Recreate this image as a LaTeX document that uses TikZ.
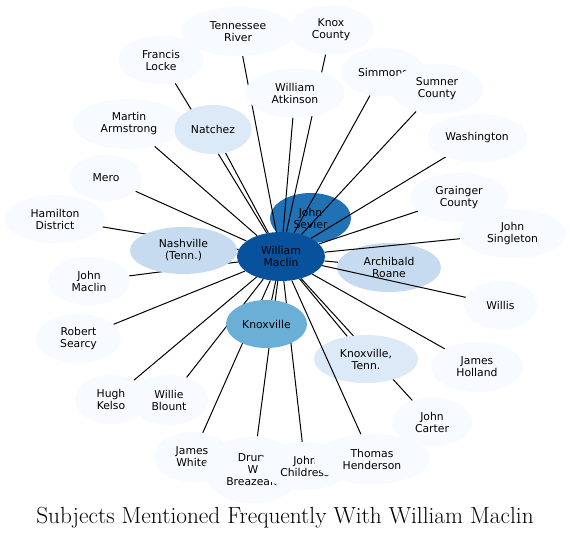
\documentclass[tikz,border=0pt]{standalone}
\usepackage{fontspec}
\newfontfamily\labfont{DejaVu Sans}
\usetikzlibrary{shapes.geometric}
\pgfdeclarelayer{back}
\pgfdeclarelayer{edges}
\pgfsetlayers{back,edges,main}
\definecolor{c0}{HTML}{F7FBFF}
\definecolor{c1}{HTML}{DCE9F6}
\definecolor{c2}{HTML}{C6DBEF}
\definecolor{c4}{HTML}{6BAED6}
\definecolor{c6}{HTML}{2171B5}
\definecolor{c7}{HTML}{08519C}
\begin{document}
\begin{tikzpicture}[x=1pt,y=-1pt,
  ent/.style={ellipse,inner sep=0pt,align=center,text=black,
    font=\labfont\fontsize{10.8}{12}\selectfont},
  sz/.style n args={2}{minimum width=#1pt,minimum height=#2pt},
  pale/.style={ent,fill=c0},
  link/.style={line width=1pt,draw=black}]
\useasboundingbox (0,0) rectangle (570,540);

\begin{pgfonlayer}{back}
\fill[white] (0,0) rectangle (570,540);
\node[ent,fill=c6,sz={81}{50}] (sevier) at (310.5,218) {John\\Sevier};
\node[ent,fill=c2,sz={104}{49}] (roane) at (389,267.5) {Archibald\\Roane};
\end{pgfonlayer}

\node[pale,sz={113}{49}] (tr) at (238,31.5) {Tennessee\\River};
\node[pale,sz={85}{49}] (knox) at (331,30) {Knox\\County};
\node[pale,sz={85}{49}] (locke) at (161,60) {Francis\\Locke};
\node[pale,sz={111}{50}] (armstrong) at (129,124) {Martin\\Armstrong};
\node[ent,fill=c1,sz={77}{49}] (natchez) at (213,129.5) {Natchez};
\node[pale,sz={99}{49}] (atkinson) at (295,93) {William\\Atkinson};
\node[pale,sz={83}{49}] (simmons) at (383,72) {Simmons};
\node[pale,sz={92}{50}] (sumner) at (437,89) {Sumner\\County};
\node[pale,sz={100}{48}] (washington) at (477,138) {Washington};
\node[pale,sz={72}{46}] (mero) at (106,178) {Mero};
\node[pale,sz={100}{48}] (hamilton) at (55,219) {Hamilton\\District};
\node[ent,fill=c2,sz={107}{47}] (nashville) at (183.5,250.5) {Nashville\\(Tenn.)};
\node[pale,sz={82}{48}] (jmaclin) at (89,281) {John\\Maclin};
\node[pale,sz={85}{49}] (searcy) at (78.5,338.5) {Robert\\Searcy};
\node[pale,sz={72}{49}] (kelso) at (111,399.5) {Hugh\\Kelso};
\node[pale,sz={78}{50}] (blount) at (169,400) {Willie\\Blount};
\node[pale,sz={76}{50}] (white) at (192,457) {James\\White};
\node[pale,sz={96}{67}] (breazeale) at (253,470) {Drury\\W\\Breazeale};
\node[pale,sz={90}{48}] (childress) at (305,466) {John\\Childress};
\node[pale,sz={116}{50}] (henderson) at (372,459) {Thomas\\Henderson};
\node[pale,sz={80}{49}] (carter) at (432,422) {John\\Carter};
\node[pale,sz={92}{50}] (holland) at (477,367) {James\\Holland};
\node[pale,sz={73}{48}] (willis) at (500.5,305) {Willis};
\node[pale,sz={98}{49}] (grainger) at (459,197.5) {Grainger\\County};
\node[pale,sz={107}{49}] (singleton) at (512.5,233.5) {John\\Singleton};
\node[ent,fill=c1,sz={104}{48}] (ktenn) at (366,359) {Knoxville,\\Tenn.};
\node[ent,fill=c4,sz={81}{48}] (knoxville) at (266.5,324) {Knoxville};
\node[ent,fill=c7,sz={88}{49}] (maclin) at (281,256.5) {William\\Maclin};

\begin{pgfonlayer}{edges}
\foreach \n in {sevier,roane,tr,knox,locke,armstrong,natchez,atkinson,simmons,sumner,washington,mero,hamilton,nashville,jmaclin,searcy,kelso,blount,white,breazeale,childress,carter,holland,willis,grainger,singleton,ktenn,knoxville}
  \draw[link] (maclin) -- (\n);
\end{pgfonlayer}
\draw[link] (maclin) -- (henderson);

\node[font=\rmfamily\fontsize{23.3}{26}\selectfont] (title) at (285,518) {Subjects Mentioned Frequently With William Maclin};
\end{tikzpicture}
\end{document}
